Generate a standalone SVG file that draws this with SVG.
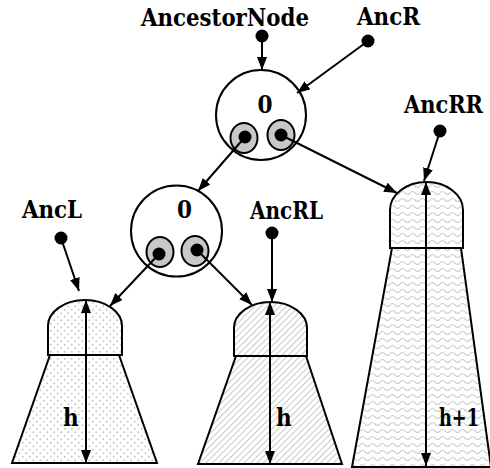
<svg xmlns="http://www.w3.org/2000/svg" width="490" height="468" viewBox="0 0 490 468">
<style>
  text { font-family: "DejaVu Serif Condensed", "DejaVu Serif", "Liberation Serif", serif; font-weight: bold; font-size: 24px; fill: #000; }
  .ln { stroke: #000; stroke-width: 2; fill: none; }
  .arr { stroke: #000; stroke-width: 2; fill: none; marker-end: url(#ah); }
  .dbl { stroke: #000; stroke-width: 2; fill: none; marker-start: url(#ahs); marker-end: url(#ah); }
  .node { fill: #fff; stroke: #000; stroke-width: 2; }
  .ptr { fill: #c8c8c8; stroke: #000; stroke-width: 2; }
  .dot { fill: #000; }
  .shape { stroke: #000; stroke-width: 2; }
</style>
<defs>
  <marker id="ah" markerUnits="userSpaceOnUse" markerWidth="14" markerHeight="10" refX="13" refY="5" orient="auto">
    <path d="M0,0 L13,5 L0,10 Z" fill="#000"/>
  </marker>
  <marker id="ahs" markerUnits="userSpaceOnUse" markerWidth="14" markerHeight="10" refX="0" refY="5" orient="auto">
    <path d="M13,0 L0,5 L13,10 Z" fill="#000"/>
  </marker>
  <pattern id="pDots" width="7" height="7" patternUnits="userSpaceOnUse">
    <rect width="7" height="7" fill="#fff"/>
    <circle cx="1.75" cy="1.75" r="0.9" fill="#c4c4c4"/>
    <circle cx="5.25" cy="5.25" r="0.9" fill="#c4c4c4"/>
  </pattern>
  <pattern id="pHatch" width="4.5" height="4.5" patternUnits="userSpaceOnUse" patternTransform="rotate(45)">
    <rect width="4.5" height="4.5" fill="#fff"/>
    <line x1="0" y1="0" x2="0" y2="4.5" stroke="#c8c8c8" stroke-width="2"/>
  </pattern>
  <pattern id="pWave" width="10" height="7" patternUnits="userSpaceOnUse">
    <rect width="10" height="7" fill="#fff"/>
    <path d="M0,4 Q2.5,1 5,4 T10,4" fill="none" stroke="#d0d0d0" stroke-width="1.2"/>
  </pattern>
</defs>

<g id="treeL">
  <path class="shape" fill="url(#pDots)" d="M50,355 L119,355 L157,463 L12,463 Z"/>
  <path class="shape" fill="url(#pDots)" d="M48,355 V326 A37,26 0 0 1 122,326 V355 Z"/>
  <line class="dbl" x1="86" y1="300" x2="86" y2="463"/>
  <text x="63" y="426">h</text>
</g>

<g id="treeM">
  <path class="shape" fill="url(#pHatch)" d="M236,356 L306,356 L342,464 L198,464 Z"/>
  <path class="shape" fill="url(#pHatch)" d="M234,356 V328 A36.5,26 0 0 1 307,328 V356 Z"/>
  <line class="dbl" x1="270" y1="302" x2="270" y2="464"/>
  <text x="276" y="426">h</text>
</g>

<g id="treeR">
  <path class="shape" fill="url(#pWave)" d="M392,248 L461,248 L491,467 L352,467 Z"/>
  <path class="shape" fill="url(#pWave)" d="M390,248 V210 A36.5,28 0 0 1 463,210 V248 Z"/>
  <line class="dbl" x1="426" y1="182" x2="426" y2="466"/>
  <text x="439" y="426" textLength="40" lengthAdjust="spacingAndGlyphs">h+1</text>
</g>

<g id="node1">
  <circle class="node" cx="261" cy="115" r="45"/>
  <text x="265" y="113" text-anchor="middle">0</text>
  <ellipse class="ptr" cx="244" cy="138" rx="13.5" ry="15"/>
  <ellipse class="ptr" cx="281" cy="135" rx="13.5" ry="15"/>
  <circle class="dot" cx="245" cy="137" r="6.5"/>
  <circle class="dot" cx="281" cy="135" r="6.5"/>
</g>

<g id="node2">
  <circle class="node" cx="176.5" cy="231" r="45.5"/>
  <text x="184.5" y="218" text-anchor="middle">0</text>
  <ellipse class="ptr" cx="160" cy="252" rx="13.5" ry="15"/>
  <ellipse class="ptr" cx="195" cy="251" rx="13.5" ry="15"/>
  <circle class="dot" cx="159" cy="254" r="6.5"/>
  <circle class="dot" cx="197" cy="250" r="6.5"/>
</g>

<g id="AncestorNode">
  <text x="141" y="26" textLength="168" lengthAdjust="spacingAndGlyphs">AncestorNode</text>
  <circle class="dot" cx="262" cy="36" r="6.5"/>
</g>
<g id="AncR">
  <text x="357" y="25" textLength="63" lengthAdjust="spacingAndGlyphs">AncR</text>
  <circle class="dot" cx="368" cy="41" r="6.5"/>
</g>
<g id="AncRR">
  <text x="404" y="113" textLength="79" lengthAdjust="spacingAndGlyphs">AncRR</text>
  <circle class="dot" cx="440" cy="131" r="6.5"/>
</g>
<g id="AncL">
  <text x="22" y="218" textLength="60" lengthAdjust="spacingAndGlyphs">AncL</text>
  <circle class="dot" cx="61" cy="238" r="6.5"/>
</g>
<g id="AncRL">
  <text x="250" y="219" textLength="73" lengthAdjust="spacingAndGlyphs">AncRL</text>
  <circle class="dot" cx="272" cy="233" r="6.5"/>
</g>

<g id="connectors">
  <line class="arr" x1="262" y1="36" x2="262" y2="70"/>
  <line class="arr" x1="368" y1="41" x2="297" y2="93"/>
  <line class="arr" x1="245" y1="137" x2="198" y2="191"/>
  <line class="arr" x1="281" y1="135" x2="397" y2="193"/>
  <line class="arr" x1="440" y1="131" x2="424" y2="181"/>
  <line class="arr" x1="61" y1="238" x2="79" y2="291"/>
  <line class="arr" x1="159" y1="254" x2="110" y2="306"/>
  <line class="arr" x1="197" y1="250" x2="252" y2="305"/>
  <line class="arr" x1="272" y1="233" x2="272" y2="302"/>
</g>
</svg>
